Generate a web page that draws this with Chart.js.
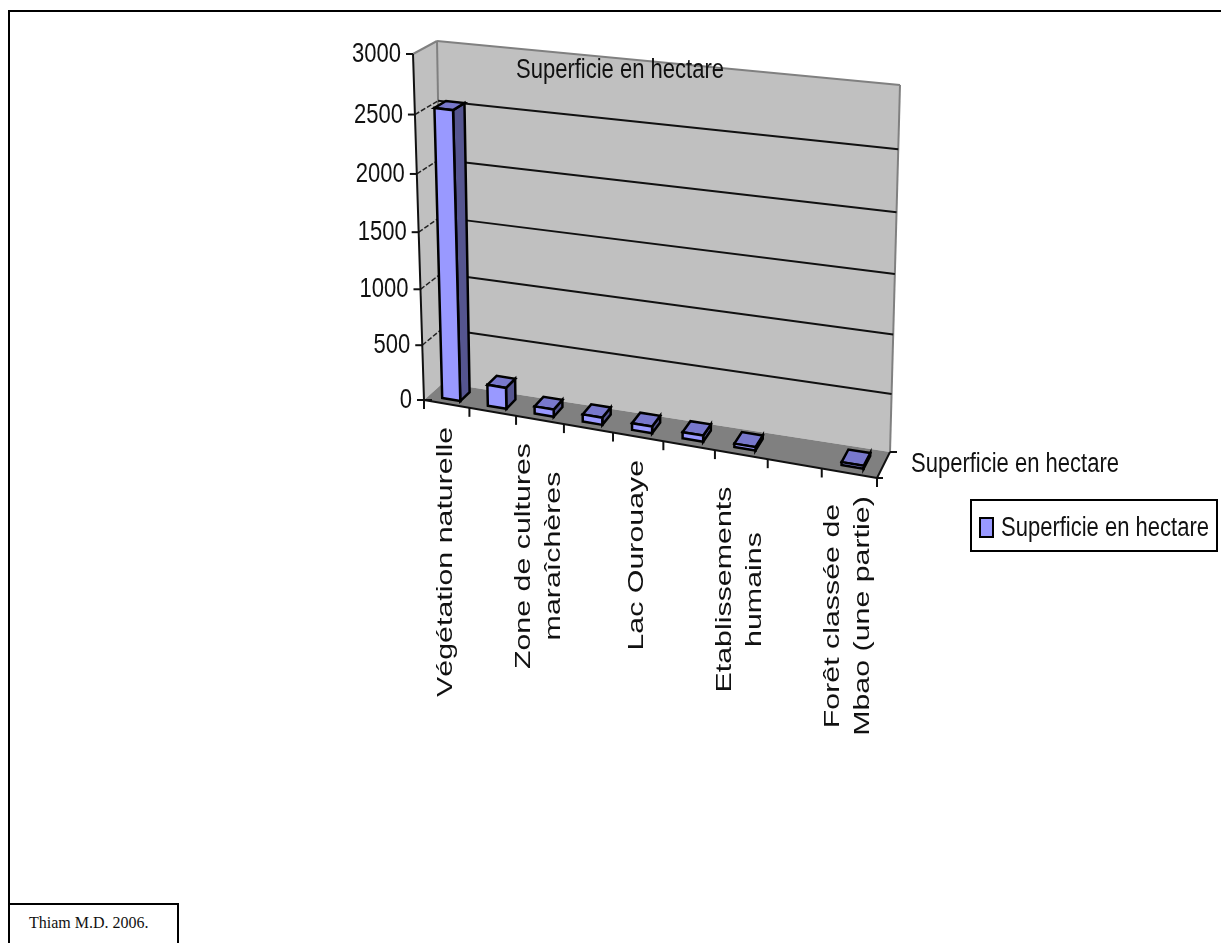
<!DOCTYPE html>
<html>
<head>
<meta charset="utf-8">
<title>Superficie en hectare</title>
<script src="https://cdn.jsdelivr.net/npm/chart.js@4"></script>
<style>
  html, body { margin: 0; padding: 0; background: #fff; overflow: hidden; }
  #grafico { position: absolute; left: 0; top: 0; filter: blur(0.4px); }
  #cadre { position: absolute; left: 8px; top: 10px; width: 1300px; height: 1000px; border: 2px solid #000; }
  #source {
    position: absolute; left: 8px; top: 903px; width: 167px; height: 100px; border: 2px solid #000;
    font: 16px "Liberation Serif"; color: #111; background: #fff;
  }
  #source span { position: absolute; left: 19px; top: 9px; white-space: nowrap; }
</style>
</head>
<body>
<div id="cadre"></div>
<canvas id="grafico" width="1221" height="943"></canvas>
<div id="source"><span>Thiam M.D. 2006.</span></div>
<script>
// donnees
const categories = [
  ['Végétation naturelle'], '',
  ['Zone de cultures', 'maraîchères'], '',
  ['Lac Ourouaye'], '',
  ['Etablissements', 'humains'], '',
  ['Forêt classée de', 'Mbao (une partie)']
];
const superficie = [2540, 190, 65, 65, 60, 55, 30, 0, 25];
const graduations = [0, 500, 1000, 1500, 2000, 2500, 3000];
const nomSerie = 'Superficie en hectare';

// coins de la boite 3D : face avant et fond
const coins = {
  avant: { basG: [424, 400], basD: [877, 478], hautG: [413, 54], hautD: [882, 107] },
  fond: { basG: [443, 383], basD: [890, 452], hautG: [437, 41], hautD: [900, 85] }
};

function melange(a, b, t) {
  return [a[0] + (b[0] - a[0]) * t, a[1] + (b[1] - a[1]) * t];
}

// passe d'une position des echelles a la position dans la boite 3D
function projette(chart, px, py, profondeur) {
  const area = chart.chartArea;
  const u0 = (px - area.left) / area.width;
  const v0 = (area.bottom - py) / area.height;
  const u = 0.89 * u0 + 0.11 * u0 * u0; // perspective
  const v = 0.94 * v0 + 0.06 * v0 * v0;
  const plan = c => melange(melange(c.basG, c.basD, u), melange(c.hautG, c.hautD, u), v);
  return melange(plan(coins.avant), plan(coins.fond), profondeur);
}

function polygone(ctx, pts, fond, trait, epaisseur) {
  ctx.beginPath();
  pts.forEach((p, i) => i ? ctx.lineTo(p[0], p[1]) : ctx.moveTo(p[0], p[1]));
  ctx.closePath();
  if (fond) { ctx.fillStyle = fond; ctx.fill(); }
  if (trait) { ctx.strokeStyle = trait; ctx.lineWidth = epaisseur; ctx.stroke(); }
}

function ligne(ctx, a, b, couleur, epaisseur, tirets) {
  ctx.beginPath();
  ctx.setLineDash(tirets || []);
  ctx.moveTo(a[0], a[1]);
  ctx.lineTo(b[0], b[1]);
  ctx.strokeStyle = couleur;
  ctx.lineWidth = epaisseur;
  ctx.stroke();
  ctx.setLineDash([]);
}

// texte haut et etroit comme sur l'image (pas de police etroite installee)
function texteEtroit(ctx, texte, x, y, align) {
  ctx.save();
  ctx.translate(x, y);
  ctx.scale(0.815, 1);
  ctx.font = '27px "Liberation Sans"';
  ctx.fillStyle = '#111';
  ctx.textAlign = align || 'left';
  ctx.textBaseline = 'alphabetic';
  ctx.fillText(texte, 0, 0);
  ctx.restore();
}

function dessineMurs(chart, ctx) {
  const f = coins.fond, a = coins.avant;
  polygone(ctx, [f.basG, f.basD, f.hautD, f.hautG], '#c0c0c0');
  polygone(ctx, [a.basG, f.basG, f.hautG, a.hautG], '#c0c0c0');
  polygone(ctx, [a.basG, a.basD, f.basD, f.basG], '#808080');
  ligne(ctx, a.hautG, f.hautG, '#808080', 2);
  ligne(ctx, f.hautG, f.hautD, '#808080', 2);
  ligne(ctx, f.hautD, f.basD, '#808080', 2);
  ligne(ctx, f.hautG, f.basG, '#808080', 2);

  const { left, right } = chart.chartArea;
  chart.scales.y.ticks.forEach(t => {
    const y = chart.scales.y.getPixelForValue(t.value);
    if (t.value > 0 && t.value < 3000) {
      ligne(ctx, projette(chart, left, y, 0), projette(chart, left, y, 1), '#222', 1.5, [5, 2]);
      ligne(ctx, projette(chart, left, y, 1), projette(chart, right, y, 1), '#111', 2);
    }
  });
}

function dessineBarres(chart, ctx) {
  const meta = chart.getDatasetMeta(0);
  meta.data.forEach((barre, i) => {
    if (!superficie[i]) return;
    const g = barre.x - barre.width / 2, d = barre.x + barre.width / 2;
    const av = 0.25, ar = 0.75;
    const P = (x, y, z) => projette(chart, x, y, z);
    polygone(ctx, [P(d, barre.base, av), P(d, barre.base, ar), P(d, barre.y, ar), P(d, barre.y, av)], '#55558f', '#000', 2.5);
    polygone(ctx, [P(g, barre.y, av), P(d, barre.y, av), P(d, barre.y, ar), P(g, barre.y, ar)], '#7878cc', '#000', 2.5);
    polygone(ctx, [P(g, barre.base, av), P(d, barre.base, av), P(d, barre.y, av), P(g, barre.y, av)], '#9999ff', '#000', 2.5);
  });
}

function dessineAxes(chart, ctx) {
  const x = chart.scales.x, y = chart.scales.y;
  const { left, right, top, bottom } = chart.chartArea;

  const origine = projette(chart, left, bottom, 0);
  const coinAvant = projette(chart, right, bottom, 0);
  const coinFond = projette(chart, right, bottom, 1);
  ligne(ctx, projette(chart, left, top, 0), origine, '#111', 2);
  ligne(ctx, origine, coinAvant, '#111', 2);
  ligne(ctx, coinAvant, coinFond, '#111', 2);
  ligne(ctx, coinFond, [coinFond[0] + 7, coinFond[1]], '#111', 2);
  ligne(ctx, coinAvant, [coinAvant[0] + 6, coinAvant[1]], '#111', 2);
  ligne(ctx, origine, [origine[0] + 8, origine[1]], '#111', 2);

  // graduations verticales
  y.ticks.forEach(t => {
    const p = projette(chart, left, y.getPixelForValue(t.value), 0);
    ligne(ctx, p, [p[0] - 7, p[1]], '#111', 2);
    texteEtroit(ctx, String(t.value), p[0] - 12, p[1] + 8, 'right');
  });

  // graduations horizontales, entre les categories
  ligne(ctx, origine, [origine[0], origine[1] + 9], '#111', 2);
  categories.forEach((_, i) => {
    const px = left + (right - left) * (i + 1) / categories.length;
    const p = projette(chart, px, bottom, 0);
    ligne(ctx, p, [p[0], p[1] + 9], '#111', 2);
  });

  // etiquettes des categories, tournees et etirees
  ctx.font = '22px "Liberation Sans"';
  const etirement = 1.38;
  categories.forEach((lignes, i) => {
    if (!lignes) return;
    const p = projette(chart, x.getPixelForValue(i), bottom, 0);
    const long = Math.max(...lignes.map(t => ctx.measureText(t).width)) * etirement;
    const ecart = i === 6 ? 32 : 23; // Etablissements est plus bas sur l'image
    const centreY = p[1] + ecart + long / 2;
    lignes.forEach((texte, n) => {
      ctx.save();
      ctx.translate(p[0] + 5 + (n - (lignes.length - 1) / 2) * 30, centreY);
      ctx.rotate(-Math.PI / 2);
      ctx.scale(etirement, 1);
      ctx.textAlign = 'center';
      ctx.textBaseline = 'alphabetic';
      ctx.fillStyle = '#111';
      ctx.fillText(texte, 0, 0);
      ctx.restore();
    });
  });
}

function dessineTextes(chart, ctx) {
  texteEtroit(ctx, nomSerie, 516, 78);
  texteEtroit(ctx, nomSerie, 911, 472);

  // legende
  ctx.fillStyle = '#fff';
  ctx.strokeStyle = '#000';
  ctx.lineWidth = 2;
  ctx.fillRect(971, 500, 246, 51);
  ctx.strokeRect(971, 500, 246, 51);
  ctx.fillStyle = '#9999ff';
  ctx.fillRect(980, 518, 13, 19);
  ctx.strokeRect(980, 518, 13, 19);
  texteEtroit(ctx, nomSerie, 1001, 536);
}

const boite3D = {
  id: 'boite3D',
  beforeDatasetsDraw(chart) {
    const ctx = chart.ctx;
    dessineMurs(chart, ctx);
    dessineBarres(chart, ctx);
    dessineAxes(chart, ctx);
    dessineTextes(chart, ctx);
    return false; // les barres plates de Chart.js ne sont pas dessinees
  }
};

const graficoSuperficie = new Chart(document.getElementById('grafico'), {
  type: 'bar',
  data: {
    labels: categories,
    datasets: [{
      label: nomSerie,
      data: superficie,
      backgroundColor: '#9999ff',
      barPercentage: 0.4,
      categoryPercentage: 1
    }]
  },
  options: {
    responsive: false,
    animation: false,
    layout: { padding: { left: 424, right: 344, top: 54, bottom: 543 } },
    plugins: { legend: { display: false }, title: { display: false }, tooltip: { enabled: false } },
    scales: {
      x: { display: false },
      y: {
        display: false,
        min: 0,
        max: 3000,
        afterBuildTicks(axis) { axis.ticks = graduations.map(value => ({ value })); }
      }
    }
  },
  plugins: [boite3D]
});
</script>
</body>
</html>
